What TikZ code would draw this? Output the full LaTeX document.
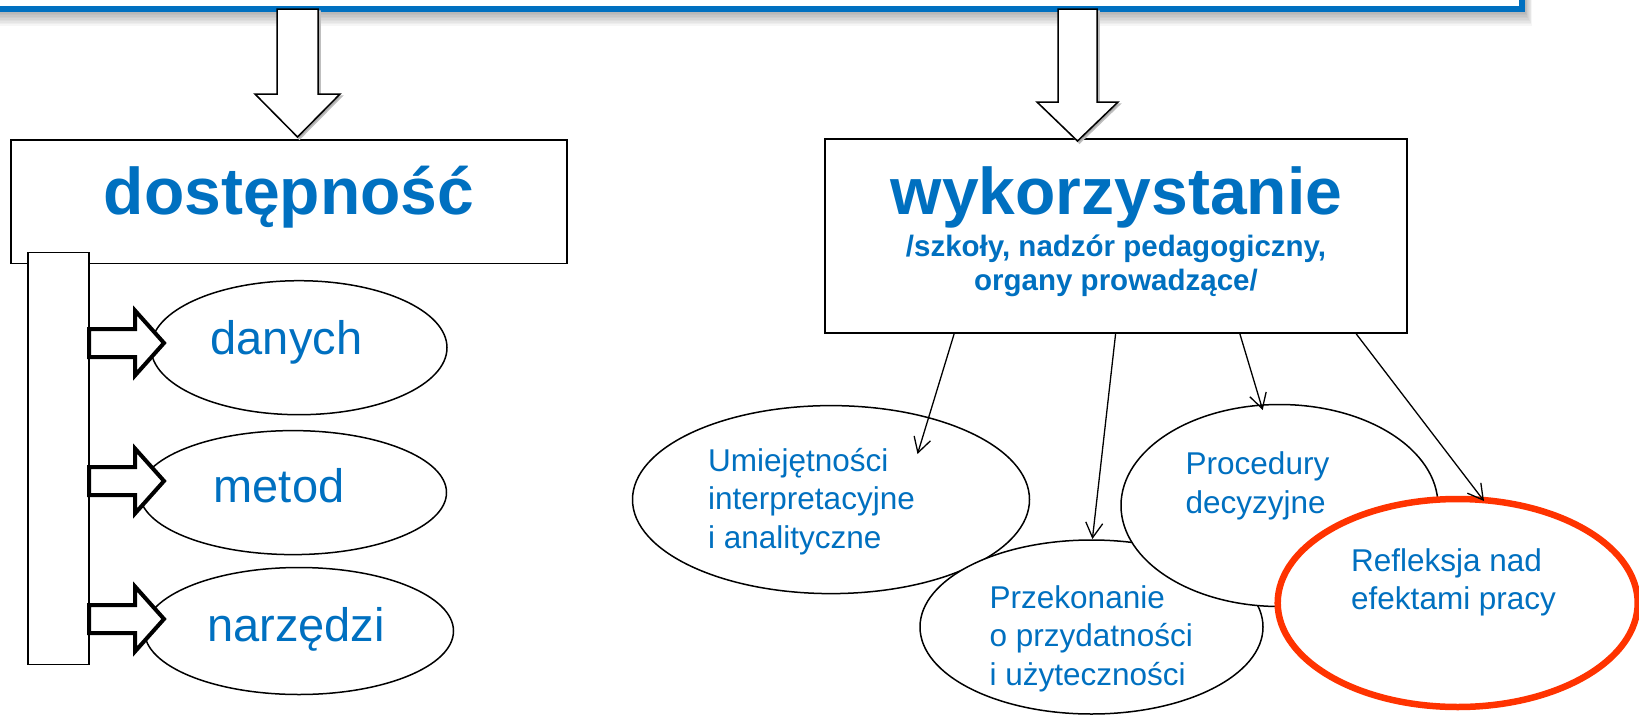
\documentclass[tikz,border=0pt]{standalone}
\usepackage{fontspec}
\setmainfont{Liberation Sans}
\usetikzlibrary{shapes.geometric,arrows.meta,calc}
\definecolor{tblue}{RGB}{0,112,192}
\definecolor{tred}{RGB}{255,51,0}
\begin{document}
\begin{tikzpicture}[x=1pt,y=-1pt,
  boxnode/.style={draw=black,line width=1.8,fill=white,inner sep=0,rectangle},
  ell/.style={ellipse,draw=black,line width=1.5,fill=white,inner sep=0},
  redell/.style={ellipse,draw=tred,line width=6.5,fill=white,inner sep=0},
  bigtitle/.style={font=\bfseries\fontsize{66}{70}\selectfont,text=tblue,inner sep=0},
  subtitle/.style={font=\bfseries\fontsize{29.5}{34}\selectfont,text=tblue,inner sep=0},
  leftlbl/.style={font=\fontsize{47}{56}\selectfont,text=tblue,inner sep=0},
  rightlbl/.style={font=\fontsize{31.5}{38.5}\selectfont,text=tblue,inner sep=0},
  bigarrow/.style={draw=black,line width=1.5,fill=white,line join=miter},
  bigshadow/.style={fill=black!35,draw=black!25,line width=1.5},
  smallarrow/.style={draw=black,line width=4,fill=white,line join=miter},
  thinarrow/.style={draw=black,line width=1.3,-{Straight Barb[length=15,width=17,line width=1.3]}}
]
\useasboundingbox (0,0) rectangle (1639,715);
% top box (cut by the frame) with soft shadow
\begin{scope}
  \clip (0,0) rectangle (1639,715);
  \foreach \i in {1,...,9}
    \fill[black,opacity=0.035] (-60,-80) rectangle (1525+\i*0.8,12+\i*1.5);
  \node[draw=tblue,line width=6,fill=white,inner sep=0,minimum width=1600,minimum height=150,anchor=south east] (top) at (1525,12) {};
\end{scope}
% main boxes
\node[boxnode,minimum width=556,minimum height=123.5] (dost) at (289,201.75) {};
\node[boxnode,minimum width=582,minimum height=194] (wyk) at (1116,236) {};
\node[bigtitle,anchor=base] (tdost) at (289,214) {dostępność};
\node[bigtitle,anchor=base] (twyk) at (1116.5,214) {wykorzystanie};
\node[subtitle,anchor=base] (tsub) at (1116,256) {\begin{tabular}[t]{@{}c@{}}/szkoły, nadzór pedagogiczny,\\organy prowadzące/\end{tabular}};
% big block arrows from the top box
\fill[bigshadow,shift={(2,2)}] (277,9) -- (318,9) -- (318,94) -- (340,94) -- (297.5,137) -- (255,94) -- (277,94) -- cycle;
\path[bigarrow] (277,9) -- (318,9) -- (318,94) -- (340,94) -- (297.5,137) -- (255,94) -- (277,94) -- cycle;
\fill[bigshadow,shift={(2,2)}] (1058,9) -- (1097,9) -- (1097,102) -- (1118,102) -- (1077.5,141) -- (1037,102) -- (1058,102) -- cycle;
\path[bigarrow] (1058,9) -- (1097,9) -- (1097,102) -- (1118,102) -- (1077.5,141) -- (1037,102) -- (1058,102) -- cycle;
% left side
\node[boxnode,minimum width=61,minimum height=412] (bar) at (58.8,458.4) {};
\node[ell,minimum width=296,minimum height=134] (edanych) at (299,347.7) {};
\node[ell,minimum width=307,minimum height=124] (emetod) at (293,492.6) {};
\node[ell,minimum width=309,minimum height=127] (enarz) at (299,631) {};
\foreach \cy in {343,481,619}
  \path[smallarrow] (89,\cy-14) -- (135,\cy-14) -- (135,\cy-32.5) -- (164,\cy) -- (135,\cy+32.5) -- (135,\cy+14) -- (89,\cy+14) -- cycle;
\node[leftlbl,anchor=base] (tdanych) at (286.5,354) {danych};
\node[leftlbl,anchor=base] (tmetod) at (279,502.7) {metod};
\node[leftlbl,anchor=base] (tnarz) at (296,641) {narzędzi};
% right side ellipses
\node[ell,minimum width=397,minimum height=188] (eumi) at (831,499.6) {};
\node[ell,minimum width=343,minimum height=174] (eprz) at (1091.5,627) {};
\node[ell,minimum width=317,minimum height=202] (eproc) at (1279.5,505.5) {};
\node[redell,minimum width=360,minimum height=208] (eref) at (1457.7,603) {};
\node[rightlbl,anchor=base west] (tumi) at (708,471) {\begin{tabular}[t]{@{}l@{}}Umiejętności\\interpretacyjne\\i analityczne\end{tabular}};
\node[rightlbl,anchor=base west] (tproc) at (1185.5,474.5) {\begin{tabular}[t]{@{}l@{}}Procedury\\decyzyjne\end{tabular}};
\node[rightlbl,anchor=base west] (tprz) at (989.5,608) {\begin{tabular}[t]{@{}l@{}}Przekonanie\\o przydatności\\i użyteczności\end{tabular}};
\node[rightlbl,anchor=base west] (tref) at (1351,571) {\begin{tabular}[t]{@{}l@{}}Refleksja nad\\efektami pracy\end{tabular}};
% thin connectors
\coordinate (tipumi) at (917.5,454);
\coordinate (tipprz) at (1092.4,539);
\coordinate (tipproc) at (1262.7,410);
\coordinate (tipref) at (1484,501);
\draw[thinarrow] ($(wyk.south west)!0.2227!(wyk.south east)$) -- (tipumi);
\draw[thinarrow] ($(wyk.south west)!0.4993!(wyk.south east)$) -- (tipprz);
\draw[thinarrow] ($(wyk.south west)!0.7122!(wyk.south east)$) -- (tipproc);
\draw[thinarrow] ($(wyk.south west)!0.9115!(wyk.south east)$) -- (tipref);
\end{tikzpicture}
\end{document}
